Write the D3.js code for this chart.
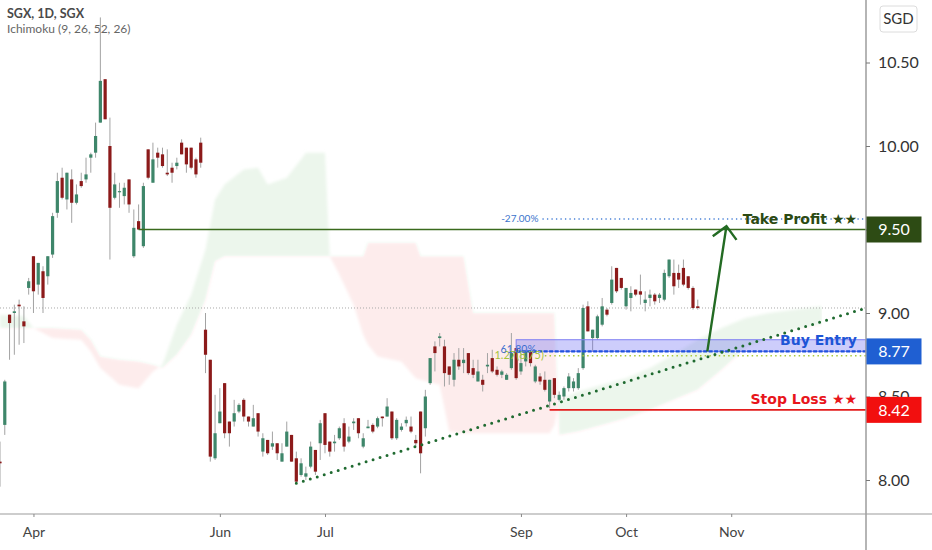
<!DOCTYPE html>
<html><head><meta charset="utf-8">
<script src="https://cdn.jsdelivr.net/npm/d3@7"></script>
<style>body{margin:0;background:#fff}svg{display:block}</style>
</head><body><svg id="c" width="932" height="550"></svg>
<script>
// ---- candle data (daily, first visible bar is index -7; Apr 1 = index 0) ----
const firstIndex = -7;
const opens  = [8.11,8.33,8.99,9.00,9.05,8.95,9.15,
 9.34,9.17,9.25,9.22,9.35,9.60,9.81,9.68,9.80,9.66,9.79,9.80,9.93,9.96,10.14,10.40,10.00,9.69,9.73,9.70,9.80,9.34,9.55,9.40,9.98,9.78,9.96,9.95,9.84,9.87,9.88,10.02,9.99,9.99,9.92,10.02,
 8.90,8.72,8.13,8.34,8.58,8.35,8.35,8.41,8.48,8.38,8.32,8.40,8.17,8.24,8.20,8.22,8.11,8.20,8.27,8.13,8.03,8.02,8.08,8.18,8.22,
 8.40,8.23,8.22,8.25,8.34,8.23,8.34,8.37,8.20,8.31,8.33,8.32,8.38,8.38,8.41,8.25,8.30,8.34,8.32,8.24,8.41,8.31,8.58,8.80,8.85,8.80,8.68,8.60,8.72,8.70,8.76,8.67,8.59,8.60,8.68,8.73,8.66,8.63,8.60,8.67,8.79,
 8.65,8.71,8.77,8.59,8.62,8.60,8.47,8.61,8.48,8.50,8.55,8.55,8.55,8.67,9.04,8.85,8.85,8.93,9.02,9.06,9.27,9.21,
 9.04,9.09,9.14,9.13,9.06,9.09,9.11,9.09,9.08,9.22,9.24,9.24,9.27,9.22,9.15,9.04];
const highs  = [8.23,8.60,8.99,9.05,9.08,9.04,9.21,
 9.34,9.30,9.28,9.34,9.60,9.84,9.87,9.84,9.86,9.77,9.84,9.93,9.96,10.14,10.77,10.40,10.17,9.84,9.78,9.78,9.80,9.62,9.65,9.78,9.98,10.02,9.99,9.99,9.98,9.90,9.93,10.04,9.99,9.99,9.93,10.05,
 9.00,8.72,8.51,8.55,8.58,8.35,8.48,8.46,8.49,8.38,8.45,8.40,8.28,8.24,8.29,8.22,8.22,8.35,8.27,8.17,8.13,8.08,8.23,8.18,8.36,
 8.40,8.23,8.27,8.32,8.37,8.32,8.37,8.37,8.28,8.36,8.34,8.38,8.38,8.49,8.41,8.37,8.34,8.38,8.38,8.27,8.41,8.54,8.73,8.83,8.88,8.84,8.68,8.76,8.79,8.79,8.76,8.72,8.72,8.63,8.76,8.78,8.68,8.66,8.64,8.88,8.79,
 8.76,8.78,8.78,8.69,8.64,8.65,8.60,8.61,8.53,8.56,8.64,8.61,8.67,9.05,9.07,8.90,8.99,9.09,9.03,9.28,9.27,9.21,
 9.15,9.16,9.14,9.23,9.13,9.14,9.12,9.12,9.26,9.32,9.32,9.29,9.32,9.22,9.16,9.08];
const lows   = [7.96,8.27,8.72,8.75,8.81,8.82,9.11,
 9.00,9.11,9.00,9.17,9.33,9.57,9.68,9.62,9.54,9.65,9.75,9.78,9.84,9.93,10.14,10.16,9.32,9.68,9.63,9.65,9.60,9.33,9.50,9.39,9.80,9.78,9.87,9.87,9.82,9.78,9.86,9.95,9.84,9.86,9.81,9.87,
 8.64,8.11,8.12,8.34,8.25,8.20,8.32,8.40,8.35,8.32,8.32,8.26,8.14,8.15,8.18,8.12,8.11,8.20,8.11,7.98,8.02,8.00,8.07,8.03,8.12,
 8.16,8.14,8.17,8.24,8.17,8.22,8.30,8.25,8.19,8.31,8.28,8.31,8.32,8.38,8.24,8.24,8.29,8.32,8.28,8.20,8.04,8.26,8.57,8.65,8.80,8.56,8.57,8.56,8.66,8.64,8.63,8.61,8.59,8.53,8.64,8.64,8.62,8.61,8.60,8.66,8.60,
 8.63,8.68,8.68,8.58,8.57,8.53,8.43,8.49,8.47,8.48,8.53,8.53,8.54,8.66,8.89,8.77,8.84,8.92,8.98,9.05,9.12,9.14,
 9.02,9.01,9.10,9.05,9.01,9.04,9.05,9.06,9.07,9.21,9.11,9.15,9.16,9.14,9.02,9.02];
const closes = [8.10,8.59,8.94,9.01,9.04,8.92,9.19,
 9.13,9.30,9.09,9.34,9.58,9.79,9.69,9.84,9.66,9.71,9.76,9.83,9.95,10.06,10.39,10.16,9.63,9.77,9.73,9.75,9.65,9.51,9.50,9.76,9.81,9.92,9.93,9.88,9.83,9.84,9.90,9.95,9.89,9.87,9.83,9.90,
 8.75,8.14,8.28,8.41,8.28,8.28,8.40,8.45,8.38,8.35,8.37,8.29,8.25,8.16,8.22,8.16,8.16,8.29,8.11,7.99,8.10,8.04,8.20,8.05,8.34,
 8.21,8.17,8.23,8.31,8.20,8.26,8.35,8.28,8.25,8.32,8.29,8.37,8.37,8.44,8.25,8.36,8.32,8.36,8.29,8.22,8.16,8.50,8.73,8.76,8.86,8.64,8.63,8.72,8.68,8.72,8.64,8.63,8.65,8.57,8.69,8.65,8.63,8.65,8.63,8.76,8.61,
 8.70,8.77,8.70,8.68,8.59,8.54,8.60,8.51,8.51,8.55,8.62,8.59,8.64,9.03,8.89,8.90,8.98,9.04,8.99,9.20,9.13,9.15,
 9.15,9.12,9.11,9.11,9.08,9.11,9.07,9.11,9.24,9.32,9.16,9.20,9.17,9.15,9.03,9.03];

// ---- Ichimoku cloud (leading spans) ----
const cloudIndex = [-7,-2,0,4,10,12,14,18,22,25,27,30,33,36,38,40,44,47,49,53,56,57,61,62,64,67,69,70,72,77,80,81,85,87,90,92,108,109,110,114,119,124,129,134,139,144,149,154,159,165];
const spanA = [8.99,8.98,8.91,8.85,8.84,8.77,8.67,8.57,8.55,8.65,8.69,8.93,9.11,9.38,9.68,9.77,9.86,9.87,9.77,9.81,9.92,9.96,9.96,9.34,9.23,9.05,8.87,8.81,8.74,8.71,8.61,8.60,8.57,8.29,8.28,8.28,8.28,8.33,8.48,8.53,8.57,8.61,8.67,8.75,8.84,8.91,8.97,9.00,9.02,9.04];
const spanB = [8.91,8.91,8.91,8.91,8.90,8.84,8.74,8.72,8.71,8.69,8.67,8.75,8.87,9.08,9.31,9.34,9.34,9.34,9.34,9.34,9.34,9.34,9.34,9.34,9.34,9.34,9.34,9.42,9.42,9.42,9.42,9.34,9.34,9.34,9.34,9.00,9.00,9.00,8.27,8.29,8.33,8.37,8.42,8.48,8.54,8.66,8.79,8.85,8.90,8.93];

// ---- axes ----
const priceTicks = [8.00,8.50,9.00,9.50,10.00,10.50];
const monthIndex = [0,39,61,102,124,146];
const monthLabels = ["Apr","Jun","Jul","Sep","Oct","Nov"];

// ---- drawings ----
const levelNames  = ["Take Profit ★★","Buy Entry","Stop Loss ★★"];
const levelPrices = [9.50,8.77,8.42];
const levelStart  = [22,101,108];
const buyZone = [8.77,8.84];
const trendIndex = [55,174.2];
const trendPrice = [7.98,9.03];
const arrowIndex = [141,145];
const arrowPrice = [8.77,9.52];
const pctLabel = "-27.00%", pctPrice = 9.563, pctStart = 106.5;
const fibLabel = "1.27(8.75)", fibPrice = 8.75, fibStart = 107;
const fibPctLabel = "61.80%";
const lastClose = closes[closes.length-1];

const svg = d3.select("#c");
const plotRight = 866, plotBottom = 514;
const x = d3.scaleLinear().domain([-7,174.2]).range([0,plotRight]);
const y = d3.scaleLinear().domain([8,10.5]).range([480,62.5]);

const defs = svg.append("defs");
defs.append("clipPath").attr("id","plot").append("rect").attr("width",plotRight).attr("height",plotBottom);
const cloud = cloudIndex.map((d,k)=>({i:d,a:spanA[k],b:spanB[k]}));
defs.append("clipPath").attr("id","aboveB").append("path")
  .attr("d", d3.area().x(d=>x(d.i)).y0(0).y1(d=>y(d.b))(cloud));
defs.append("clipPath").attr("id","belowB").append("path")
  .attr("d", d3.area().x(d=>x(d.i)).y0(plotBottom).y1(d=>y(d.b))(cloud));
const blur = defs.append("filter").attr("id","soft").attr("x","-5%").attr("y","-5%").attr("width","110%").attr("height","110%");
blur.append("feGaussianBlur").attr("stdDeviation",1.5);

const g = svg.append("g").attr("clip-path","url(#plot)");
const areaAB = d3.area().x(d=>x(d.i)).y0(d=>y(d.b)).y1(d=>y(d.a));
g.append("g").attr("clip-path","url(#aboveB)").append("path").attr("d",areaAB(cloud)).attr("fill","#ecf6ec").attr("filter","url(#soft)");
g.append("g").attr("clip-path","url(#belowB)").append("path").attr("d",areaAB(cloud)).attr("fill","#fdecec").attr("filter","url(#soft)");

// last price dotted line
g.append("line").attr("x1",0).attr("x2",plotRight).attr("y1",y(lastClose)).attr("y2",y(lastClose))
  .attr("stroke","#a8a8a8").attr("stroke-dasharray","1,2");

// candles
const candles = opens.map((o,j)=>({i:j+firstIndex,o,h:highs[j],l:lows[j],c:closes[j]}));
g.selectAll("line.wick").data(candles).join("line").attr("class","wick")
  .attr("x1",d=>x(d.i)).attr("x2",d=>x(d.i)).attr("y1",d=>y(d.h)).attr("y2",d=>y(d.l))
  .attr("stroke","#a3a3a3").attr("stroke-width",1);
g.selectAll("rect.body").data(candles).join("rect").attr("class","body")
  .attr("x",d=>x(d.i)-1.6).attr("width",3.2)
  .attr("y",d=>y(Math.max(d.o,d.c)))
  .attr("height",d=>Math.max(1.2,Math.abs(y(d.o)-y(d.c))))
  .attr("fill",d=>d.c>=d.o?"#3e866a":"#8c1a1a");

// buy zone rectangle
g.append("rect").attr("x",x(levelStart[1])).attr("width",plotRight-x(levelStart[1]))
  .attr("y",y(buyZone[1])).attr("height",y(buyZone[0])-y(buyZone[1]))
  .attr("fill","rgba(100,100,242,0.32)").attr("stroke","#8080f2").attr("stroke-width",1);

// fib dotted lines
g.append("line").attr("x1",x(pctStart)).attr("x2",plotRight).attr("y1",y(pctPrice)).attr("y2",y(pctPrice))
  .attr("stroke","#4a82d8").attr("stroke-width",1.3).attr("stroke-dasharray","1.3,3.2");
g.append("line").attr("x1",x(fibStart)).attr("x2",plotRight).attr("y1",y(fibPrice)+1).attr("y2",y(fibPrice)+1)
  .attr("stroke","#a8c93a").attr("stroke-width",1.5).attr("stroke-dasharray","1.5,3.2");

// levels
const levelLine = ["#3a6a1c","#1f52de","#e31c1c"];
const levelDash = [null,"4,1.5",null];
const levelWidth = [1.6,2.2,1.6];
levelPrices.forEach((p,k)=>{
  g.append("line").attr("x1",x(levelStart[k])).attr("x2",plotRight).attr("y1",y(p)).attr("y2",y(p))
   .attr("stroke",levelLine[k]).attr("stroke-width",levelWidth[k]).attr("stroke-dasharray",levelDash[k]);
});

// trendline
g.append("line").attr("x1",x(trendIndex[0])).attr("y1",y(trendPrice[0]))
  .attr("x2",x(trendIndex[1])).attr("y2",y(trendPrice[1]))
  .attr("stroke","#1f6a30").attr("stroke-width",3).attr("stroke-linecap","round").attr("stroke-dasharray","0,7.3");

// arrow
const ax0=x(arrowIndex[0]), ay0=y(arrowPrice[0]), ax1=x(arrowIndex[1]), ay1=y(arrowPrice[1]);
const len=Math.hypot(ax0-ax1,ay0-ay1), bx=(ax0-ax1)/len, by=(ay0-ay1)/len;
const rot=(a)=>[ax1+17*(bx*Math.cos(a)-by*Math.sin(a)), ay1+17*(bx*Math.sin(a)+by*Math.cos(a))];
const pL=rot(Math.PI/4), pR=rot(-Math.PI/4);
g.append("path").attr("d",`M${ax0},${ay0}L${ax1},${ay1}M${pL[0]},${pL[1]}L${ax1},${ay1}L${pR[0]},${pR[1]}`)
  .attr("fill","none").attr("stroke","#236b23").attr("stroke-width",2.4).attr("stroke-linejoin","miter");

// drawing labels
const levelText = ["#2c4a12","#1d55d6","#e8151b"];
levelNames.forEach((t,k)=>{
  svg.append("text").attr("x",857).attr("y",y(levelPrices[k])-6).attr("text-anchor","end")
    .attr("font-family","DejaVu Sans, Verdana, sans-serif").attr("font-weight","bold").attr("font-size",14)
    .attr("fill",levelText[k]).text(t);
});
svg.append("text").attr("x",x(pctStart)-4).attr("y",y(pctPrice)+3.5).attr("text-anchor","end")
  .attr("font-family","Lato, sans-serif").attr("font-size",10).attr("fill","#3b74cc").text(pctLabel);
svg.append("text").attr("x",x(fibStart)-1).attr("y",y(fibPrice)+4.5).attr("text-anchor","end")
  .attr("font-family","Lato, sans-serif").attr("font-size",11).attr("fill","#a5c33c").text(fibLabel);
svg.append("text").attr("x",x(fibStart)-9).attr("y",y(buyZone[0])+2).attr("text-anchor","end")
  .attr("font-family","Lato, sans-serif").attr("font-size",10.5).attr("fill","#3b6fd0").text(fibPctLabel);

// header
svg.append("text").attr("x",7).attr("y",18).attr("font-family","Lato, sans-serif").attr("font-weight","bold")
  .attr("font-size",12.5).attr("fill","#4a4a4a").text("SGX, 1D, SGX");
svg.append("text").attr("x",7).attr("y",33).attr("font-family","Lato, sans-serif")
  .attr("font-size",12).attr("fill","#666").text("Ichimoku (9, 26, 52, 26)");

// axes frame lines
svg.append("line").attr("x1",0).attr("x2",932).attr("y1",plotBottom).attr("y2",plotBottom).attr("stroke","#9c9c9c").attr("stroke-width",1.2);
svg.append("line").attr("x1",plotRight).attr("x2",plotRight).attr("y1",0).attr("y2",550).attr("stroke","#9c9c9c").attr("stroke-width",1.5);

// price axis
const yAxis = svg.append("g").attr("transform",`translate(${plotRight},0)`)
  .call(d3.axisRight(y).tickValues(priceTicks).tickFormat(d3.format(".2f")).tickSize(4).tickPadding(8));
yAxis.select(".domain").remove();
yAxis.selectAll("line").attr("stroke","#777");
yAxis.selectAll("text").attr("font-family","Lato, sans-serif").attr("font-size",16).attr("fill","#333");

// time axis
const xAxis = svg.append("g").attr("transform",`translate(0,${plotBottom})`)
  .call(d3.axisBottom(x).tickValues(monthIndex).tickFormat((d,k)=>monthLabels[k]).tickSize(3).tickPadding(10));
xAxis.select(".domain").remove();
xAxis.selectAll("line").attr("stroke","#888");
xAxis.selectAll("text").attr("font-family","Lato, sans-serif").attr("font-size",14).attr("fill","#444");

// price boxes
const boxFill = ["#2d4b14","#1f5fd2","#f20f0f"];
levelPrices.forEach((p,k)=>{
  svg.append("rect").attr("x",plotRight+0.5).attr("y",y(p)-13).attr("width",55).attr("height",26).attr("fill",boxFill[k]);
  svg.append("text").attr("x",plotRight+28).attr("y",y(p)).attr("dy","0.36em").attr("text-anchor","middle")
    .attr("font-family","Lato, sans-serif").attr("font-size",16).attr("fill","#fff").text(d3.format(".2f")(p));
});

// currency badge
svg.append("rect").attr("x",880).attr("y",6).attr("width",37).attr("height",26).attr("rx",3)
  .attr("fill","#fff").attr("stroke","#dcdcdc");
svg.append("text").attr("x",898.5).attr("y",19).attr("dy","0.36em").attr("text-anchor","middle")
  .attr("font-family","Lato, sans-serif").attr("font-size",15).attr("fill","#333").text("SGD");
</script></body></html>
